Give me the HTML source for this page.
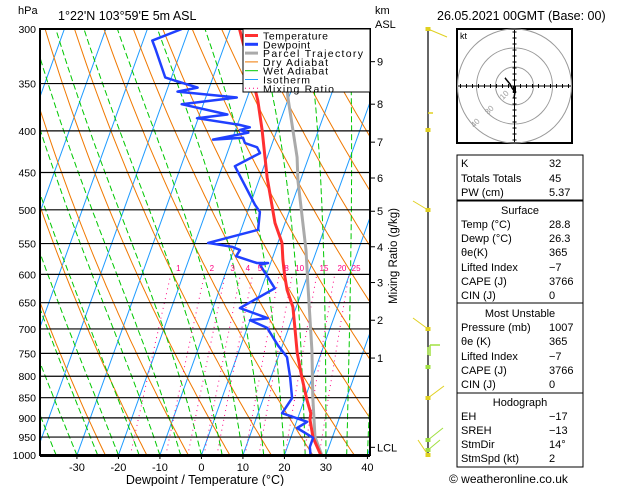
<!DOCTYPE html>
<html><head><meta charset="utf-8"><style>
html,body{margin:0;padding:0;background:#fff;}
svg{display:block;font-family:"Liberation Sans",sans-serif;}
</style></head><body>
<svg id="chart" width="629" height="486" viewBox="0 0 629 486">
<defs><clipPath id="pc"><rect x="40" y="29" width="330" height="426"/></clipPath></defs>
<rect x="0" y="0" width="629" height="486" fill="#fff"/>
<g id="bg" clip-path="url(#pc)"></g>
<g id="series" clip-path="url(#pc)"></g>
<g id="axes"></g>
<text x="18" y="14" font-size="11">hPa</text>
<text x="58" y="20" font-size="12.5">1°22'N 103°59'E 5m ASL</text>
<text x="375" y="14" font-size="11">km</text>
<text x="375" y="28" font-size="11">ASL</text>
<text x="437" y="20" font-size="12.5">26.05.2021 00GMT (Base: 00)</text>
<text x="205" y="484" font-size="12.5" text-anchor="middle">Dewpoint / Temperature (°C)</text>
<text transform="translate(397,256) rotate(-90)" font-size="11.5" text-anchor="middle">Mixing Ratio (g/kg)</text>
<g id="legend">
<rect x="243" y="29" width="127" height="63" fill="#fff" stroke="#000" stroke-width="1"/>
</g>
<g id="winds">
<line x1="428" y1="29" x2="428" y2="455" stroke="#000" stroke-width="1.2"/>
</g>
<g id="hodo">
<rect x="457" y="29" width="115" height="114" fill="#fff" stroke="#000" stroke-width="2"/>
<text x="460" y="39" font-size="9">kt</text>
</g>
<g id="tables" font-size="11">
<rect x="457" y="155" width="126" height="45" fill="none" stroke="#000"/>
<rect x="457" y="201" width="126" height="102" fill="none" stroke="#000"/>
<rect x="457" y="303" width="126" height="90" fill="none" stroke="#000"/>
<rect x="457" y="393" width="126" height="74" fill="none" stroke="#000"/>
</g>
<text x="449" y="483" font-size="12">© weatheronline.co.uk</text>
</svg>
<script>
// ---- data ----
const tempP = [1000,952,905,888,855,802,749,702,658,627,601,576,549,519,456,399,367,362,300];
const tempT = [28.8,25.4,23.1,22.7,20.6,17.4,14.2,11.7,9.2,6.3,4.4,2.7,1.0,-2.4,-8.3,-13.6,-17.2,-17.9,-27.8];
const dewP = [1000,977,952,926,910,888,851,802,758,733,698,683,679,660,624,584,581,581,570,560,555,549,529,503,493,442,426,419,414,408,410,402,399,396,393,386,382,371,364,358,354,347,344,318,310,300];
const dewT = [26.3,25.4,25.4,20.7,22.6,15.8,16.9,14.6,12.1,8.9,4.8,0.0,4.1,-3.5,3.2,-2.4,-0.6,-3.3,-8.9,-8.5,-10.7,-16.8,-5.9,-7.0,-8.8,-17.0,-12.1,-13.3,-16.6,-17.5,-24.6,-16.7,-18.9,-16.8,-19.8,-30.3,-23.3,-35.2,-22.5,-37.3,-32.8,-39.0,-41.5,-46.2,-47.8,-41.7];
const parcelP = [1000,950,849,743,615,560,460,431,364,330];
const parcelT = [29.0,25.8,21.8,17.5,10.7,7.4,-0.6,-2.8,-10.2,-14.0];
const pressureTicks = [300,350,400,450,500,550,600,650,700,750,800,850,900,950,1000];
const tempTicks = [-30,-20,-10,0,10,20,30,40];
const kmLabels = ["9","8","7","6","5","4","3","2","1","LCL"];
const kmPressures = [329,371,413,457,502,555,614,683,760,978];
const mixRatios = [1,2,3,4,5,8,10,15,20,25];

const NS="http://www.w3.org/2000/svg";
function yP(p){return 29+354*Math.log(p/300);}
function xT(T,p){return 201.5+4.15*T+0.36*(455-yP(p));}
function el(tag,attrs,parent){const e=document.createElementNS(NS,tag);for(const k in attrs)e.setAttribute(k,attrs[k]);parent.appendChild(e);return e;}
const bg=document.getElementById('bg'),series=document.getElementById('series'),axes=document.getElementById('axes');
function poly(pts,stroke,w,dash,parent){return el('polyline',{points:pts.map(q=>q[0].toFixed(1)+','+q[1].toFixed(1)).join(' '),fill:'none',stroke:stroke,'stroke-width':w,'stroke-dasharray':dash||'none'},parent);}
const plevs=[];for(let p=1000;p>=300;p-=10)plevs.push(p);

// isotherms
for(let T=-110;T<=40;T+=10){
  const l=poly([[xT(T,1000),yP(1000)],[xT(T,300),yP(300)]],'#1e9bff',1,null,bg);
  
  
}
// dry adiabats
for(let th=250;th<=480;th+=10){
  const pts=plevs.map(p=>[xT(th*Math.pow(p/1000,0.2857)-273.15,p),yP(p)]);
  const l=poly(pts,'#f07800',1,null,bg);
  
  
}
// wet adiabats
function es(Tc){return 6.112*Math.exp(17.67*Tc/(Tc+243.5));}
for(let tw=-35;tw<=40;tw+=5){
  let T=tw+273.15,pts=[];
  for(let p=1000;p>=300;p-=5){
    pts.push([xT(T-273.15,p),yP(p)]);
    const e=es(T-273.15),rs=0.622*e/(p-e);
    const dTdp=(287*T+2.5e6*rs)/(1004+2.5e6*2.5e6*rs*0.622/(287*T*T))/p;
    T-=dTdp*5;
  }
  const l=poly(pts,'#00c800',1,'6,3',bg);
  
  
}
// mixing ratio
function tdw(w,p){const e=w*p/(622+w),L=Math.log(e/6.112);return 243.5*L/(17.67-L);}
mixRatios.forEach(w=>{
  const pts=[];for(let p=1000;p>=600;p-=10)pts.push([xT(tdw(w,p),p),yP(p)]);
  const l=poly(pts,'#ff0080',1,'1,4',bg);
  
  
  const t=el('text',{x:(xT(tdw(w,589),589)+6).toFixed(1),y:271,'font-size':8,fill:'#ff0080','text-anchor':'middle'},axes);
  t.textContent=w;
  
  
});
// pressure lines + labels
pressureTicks.forEach(p=>{
  const y=yP(p);
  const l=el('line',{x1:40,y1:y,x2:370,y2:y,stroke:'#000','stroke-width':1.2},bg);
  
  
  const t=el('text',{x:36,y:y+4,'font-size':10.5,'text-anchor':'end'},axes);
  t.textContent=p;
  
  
});
// series
function prof(P,T,color,w,name){
  const l=poly(P.map((p,i)=>[xT(T[i],p),yP(p)]),color,w,null,series);
  l.setAttribute('stroke-linejoin','round');
  
  
}
prof(parcelP,parcelT,'#aaaaaa',3,'parcel-trajectory');
prof(tempP,tempT,'#ff3030',3,'temperature-line');
prof(dewP,dewT,'#2040ff',2.5,'dewpoint-line');
// frame
el('rect',{x:40,y:29,width:330,height:426,fill:'none',stroke:'#000','stroke-width':2},axes);
el('line',{x1:40,y1:456,x2:370,y2:456,stroke:'#000','stroke-width':2},axes);
tempTicks.forEach(T=>{
  const x=xT(T,1000);
  el('line',{x1:x,y1:455,x2:x,y2:459,stroke:'#000'},axes);
  const t=el('text',{x:x,y:471,'font-size':11,'text-anchor':'middle'},axes);
  t.textContent=T;
  
  
});
kmLabels.forEach((k,i)=>{
  const y=yP(kmPressures[i]);
  el('line',{x1:370,y1:y,x2:375,y2:y,stroke:'#000'},axes);
  const t=el('text',{x:377,y:y+4,'font-size':11},axes);
  t.textContent=k;
  
  
});
// legend
const leg=document.getElementById('legend');
[['Temperature','#ff3030',3,null],['Dewpoint','#2040ff',3,null],['Parcel Trajectory','#aaaaaa',3,null],['Dry Adiabat','#f07800',1,null],['Wet Adiabat','#00c800',1,null],['Isotherm','#1e9bff',1,null],['Mixing Ratio','#ff0080',1,'1,3']].forEach((e,i)=>{
  const y=35.5+i*8.8;
  el('line',{x1:245,y1:y,x2:258,y2:y,stroke:e[1],'stroke-width':e[2],'stroke-dasharray':e[3]||'none'},leg);
  const t=el('text',{x:263,y:y+4,'font-size':10.5,textLength:(e[0].length*5.9).toFixed(0)},leg);
  t.textContent=e[0];
  
  
});
// winds
const wg=document.getElementById('winds');
[[29,447,37,'#e0d020'],[210,413,201,'#e0d020'],[329,413,318,'#e0d020'],[398,444,386,'#e0d020'],[450,440,440,'#a0e040'],[440,443,428,'#a0e040'],[455,418,440,'#e0d020']].forEach(b=>{
  el('line',{x1:428,y1:b[0],x2:b[1],y2:b[2],stroke:b[3],'stroke-width':1},wg);
  el('rect',{x:425.5,y:b[0]-2,width:5,height:4,fill:b[3]},wg);
});
el('path',{d:'M428 113 L433 113 M428 130 L428 130',stroke:'#e0d020','stroke-width':1.5,fill:'none'},wg);
el('rect',{x:425.5,y:128,width:5,height:4,fill:'#e0d020'},wg);
el('path',{d:'M428 347 L428 355 M430 345 L430 356 M430 345 L440 345',stroke:'#a0e040','stroke-width':1.5,fill:'none'},wg);
el('rect',{x:425.5,y:365,width:5,height:4,fill:'#a0e040'},wg);
// hodograph
const hg=document.getElementById('hodo'),cx=514.5,cy=86;
[19,38,57].forEach(r=>el('circle',{cx:cx,cy:cy,r:r,fill:'none',stroke:'#999','stroke-width':1},hg));
el('line',{x1:458,y1:cy,x2:571,y2:cy,stroke:'#000'},hg);
el('line',{x1:cx,y1:30,x2:cx,y2:142,stroke:'#000'},hg);
for(let d=-54;d<=54;d+=6){el('line',{x1:cx+d,y1:cy-2,x2:cx+d,y2:cy+2,stroke:'#000'},hg);el('line',{x1:cx-2,y1:cy+d,x2:cx+2,y2:cy+d,stroke:'#000'},hg);}
[['10',503,100],['30',488,115],['40',474,128]].forEach(l=>{const t=el('text',{x:l[1],y:l[2],'font-size':8,fill:'#999',transform:'rotate(-45 '+l[1]+' '+l[2]+')'},hg);t.textContent=l[0];});
poly([[506,79],[505,78],[510,84],[512,88],[515,92],[514,98]],'#000',1.5,null,hg);
el('rect',{x:513,y:86,width:3,height:7,fill:'#000'},hg);
// tables
const tb=document.getElementById('tables');
const rows=[['K','32',167],['Totals Totals','45',182],['PW (cm)','5.37',196],['Surface','',214,1],['Temp (°C)','28.8',228],['Dewp (°C)','26.3',242],['θe(K)','365',256],['Lifted Index','−7',271],['CAPE (J)','3766',285],['CIN (J)','0',299],['Most Unstable','',317,1],['Pressure (mb)','1007',331],['θe (K)','365',345],['Lifted Index','−7',360],['CAPE (J)','3766',374],['CIN (J)','0',388],['Hodograph','',406,1],['EH','−17',420],['SREH','−13',434],['StmDir','14°',448],['StmSpd (kt)','2',462]];
rows.forEach(r=>{
  const t=el('text',r[3]?{x:520,y:r[2],'text-anchor':'middle'}:{x:461,y:r[2]},tb);
  t.textContent=r[0];
  
  
  if(r[1]){const v=el('text',{x:549,y:r[2]},tb);v.textContent=r[1];
    
    }
});
</script>
</body></html>
